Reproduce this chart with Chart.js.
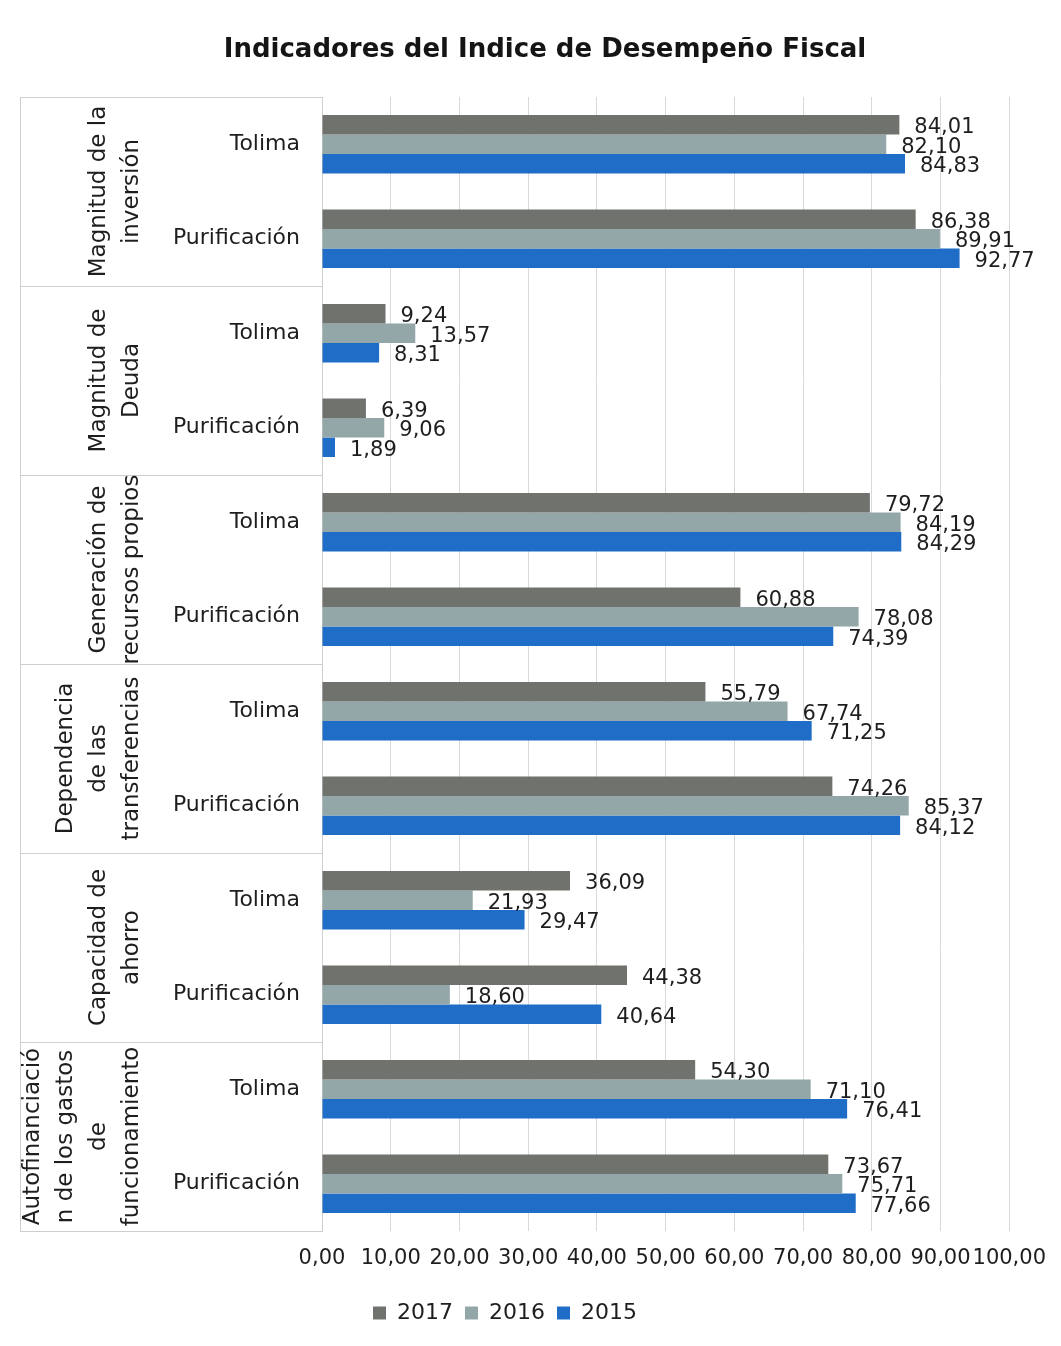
<!DOCTYPE html>
<html><head><meta charset="utf-8">
<script src="https://cdn.jsdelivr.net/npm/chart.js@4/dist/chart.umd.min.js"></script>
<style>html,body{margin:0;padding:0;background:#fff;}canvas{display:block;}</style>
</head><body>
<canvas id="c" width="1061" height="1346"></canvas>
<script>
const chartTitle = 'Indicadores del Indice de Desempeño Fiscal';
const categories = ['Tolima','Purificación','Tolima','Purificación','Tolima','Purificación','Tolima','Purificación','Tolima','Purificación','Tolima','Purificación'];
const groups = [
  ['Magnitud de la','inversión'],
  ['Magnitud de','Deuda'],
  ['Generación de','recursos propios'],
  ['Dependencia','de las','transferencias'],
  ['Capacidad de','ahorro'],
  ['Autofinanciació','n de los gastos','de','funcionamiento']
];
const seriesNames = ['2017','2016','2015'];
const values2017 = [84.01, 86.38, 9.24, 6.39, 79.72, 60.88, 55.79, 74.26, 36.09, 44.38, 54.30, 73.67];
const values2016 = [82.10, 89.91, 13.57, 9.06, 84.19, 78.08, 67.74, 85.37, 21.93, 18.60, 71.10, 75.71];
const values2015 = [84.83, 92.77, 8.31, 1.89, 84.29, 74.39, 71.25, 84.12, 29.47, 40.64, 76.41, 77.66];
const colors = ['#6f726d','#93a6a8','#1f6dc6'];
const FONT = 'DejaVu Sans';
const fmt = v => v.toFixed(2).replace('.', ',');

const titlePlugin = {
  id: 'ctitle',
  afterDraw(chart) {
    const ctx = chart.ctx;
    ctx.save();
    ctx.fillStyle = '#151515';
    ctx.font = 'bold 26px "' + FONT + '"';
    ctx.textAlign = 'center';
    ctx.textBaseline = 'middle';
    ctx.fillText(chartTitle, 545, 50);
    ctx.restore();
  }
};

const groupPlugin = {
  id: 'groups',
  afterDraw(chart) {
    const ctx = chart.ctx, y = chart.scales.y, area = chart.chartArea;
    const catH = (y.bottom - y.top) / categories.length;
    const leftX = 20;
    ctx.save();
    ctx.strokeStyle = '#cfcfcf';
    ctx.lineWidth = 1;
    ctx.beginPath();
    ctx.moveTo(leftX + 0.5, y.top);
    ctx.lineTo(leftX + 0.5, y.bottom);
    for (let g = 0; g <= groups.length; g++) {
      const yy = Math.round(y.top + g * 2 * catH) + 0.5;
      ctx.moveTo(leftX, yy);
      ctx.lineTo(area.left, yy);
    }
    ctx.stroke();
    ctx.fillStyle = '#1e1e1e';
    ctx.font = '23px "' + FONT + '"';
    ctx.textAlign = 'center';
    ctx.textBaseline = 'middle';
    groups.forEach((lines, g) => {
      const cy = y.top + (g * 2 + 1) * catH;
      const n = lines.length;
      lines.forEach((t, i) => {
        const x = 132 - (n - 1 - i) * 33;
        ctx.save();
        ctx.translate(x, cy);
        ctx.rotate(-Math.PI / 2);
        ctx.fillText(t, 0, 0);
        ctx.restore();
      });
    });
    ctx.restore();
  }
};

const labelPlugin = {
  id: 'vlabels',
  afterDatasetsDraw(chart) {
    const ctx = chart.ctx;
    ctx.save();
    ctx.fillStyle = '#1e1e1e';
    ctx.font = '21px "' + FONT + '"';
    ctx.textAlign = 'left';
    ctx.textBaseline = 'middle';
    chart.data.datasets.forEach((ds, di) => {
      const meta = chart.getDatasetMeta(di);
      meta.data.forEach((el, i) => {
        ctx.fillText(fmt(ds.data[i]), el.x + 15, el.y + 3);
      });
    });
    ctx.restore();
  }
};

new Chart(document.getElementById('c'), {
  type: 'bar',
  data: {
    labels: categories,
    datasets: [
      { label: seriesNames[0], data: values2017, backgroundColor: colors[0] },
      { label: seriesNames[1], data: values2016, backgroundColor: colors[1] },
      { label: seriesNames[2], data: values2015, backgroundColor: colors[2] }
    ]
  },
  options: {
    indexAxis: 'y',
    responsive: false,
    devicePixelRatio: 1,
    animation: false,
    layout: { padding: { left: 0, right: 51, top: 97, bottom: 12 } },
    datasets: { bar: { barPercentage: 1, categoryPercentage: 0.62 } },
    scales: {
      x: {
        min: 0, max: 100,
        ticks: { stepSize: 10, autoSkip: false, maxRotation: 0, padding: 15, color: '#1e1e1e',
          font: { family: FONT, size: 21 }, callback: v => fmt(v) },
        grid: { color: '#d9d9d9', drawTicks: false },
        border: { display: false },
        afterFit(s) { s.height = 59; }
      },
      y: {
        ticks: { padding: 22, color: '#1e1e1e', font: { family: FONT, size: 22 } },
        grid: { display: false, drawTicks: false },
        border: { display: true, color: '#cfcfcf' },
        afterFit(s) { s.width = 322; }
      }
    },
    plugins: {
      title: { display: false },
      legend: { position: 'bottom', labels: { boxWidth: 13, boxHeight: 13, padding: 12, color: '#1e1e1e',
        font: { family: FONT, size: 22 } } },
      tooltip: { enabled: false }
    }
  },
  plugins: [groupPlugin, labelPlugin, titlePlugin]
});
</script>
</body></html>
